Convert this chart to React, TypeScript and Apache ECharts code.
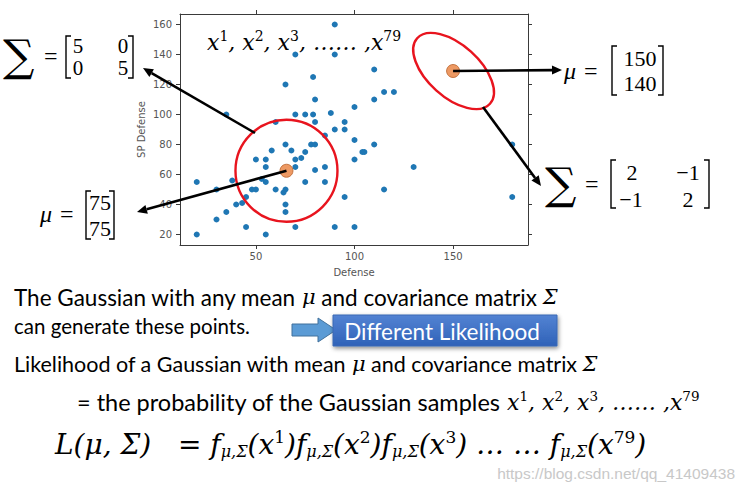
import React, { useEffect, useRef } from "react";
import * as echarts from "echarts";

const xTicks = [50, 100, 150];
const yTicks = [20, 40, 60, 80, 100, 120, 140, 160];
const defense = [90, 70, 90, 65, 79, 110, 80, 110, 115, 120, 100, 88, 35, 70, 75, 79, 80, 95, 60, 90, 95, 85, 65, 68, 58, 78, 80, 75, 73, 70, 50, 55, 55, 70, 85, 80, 100, 105, 110, 100, 130, 180, 180, 115, 95, 90, 100, 70, 75, 85, 60, 65, 64, 55, 48, 50, 38, 45, 43, 40, 35, 30, 30, 20, 20, 45, 55, 65, 65, 53, 104];
const spDefense = [160, 140, 140, 120, 125, 130, 110, 110, 115, 115, 105, 101, 100, 100, 100, 100, 95, 95, 95, 90, 90, 86, 80, 76, 76, 80, 80, 75, 71, 70, 70, 70, 65, 65, 65, 63, 70, 75, 80, 83, 65, 45, 80, 50, 45, 25, 25, 25, 55, 55, 50, 50, 48, 55, 50, 50, 56, 45, 41, 40, 35, 30, 50, 55, 20, 25, 20, 40, 35, 57, 75];
const meanX = [65.5, 150];
const meanY = [62.5, 129];

const SERIF = "Liberation Serif";
const MATH = "DejaVu Serif";
const SANS = "Lato";
const TICK = "#3a3a3a";

function txt(text: string, x: number, y: number, o: any = {}) {
  const align = o.align || "left";
  return {
    type: "text",
    z: 100,
    style: {
      text, x, y,
      fill: o.fill || "#000",
      align, textAlign: align,
      verticalAlign: "middle", textVerticalAlign: "middle",
      fontSize: o.size || 20,
      fontFamily: o.family || SERIF,
      fontStyle: o.italic ? "italic" : "normal",
      rich: o.rich,
    },
  };
}

function bracket(x: number, y1: number, y2: number, dir: number) {
  return {
    type: "polyline", z: 100,
    shape: { points: [[x + 5 * dir, y1], [x, y1], [x, y2], [x + 5 * dir, y2]] },
    style: { stroke: "#000", lineWidth: 1.4, fill: "none" },
  };
}

function arrow(x1: number, y1: number, x2: number, y2: number) {
  const a = Math.atan2(y2 - y1, x2 - x1);
  const L = 10, W = 4.5;
  const bx = x2 - L * Math.cos(a), by = y2 - L * Math.sin(a);
  const px = -Math.sin(a) * W, py = Math.cos(a) * W;
  return [
    { type: "line", z: 100, shape: { x1, y1, x2: bx, y2: by }, style: { stroke: "#000", lineWidth: 2.6 } },
    { type: "polygon", z: 100, shape: { points: [[x2, y2], [bx + px, by + py], [bx - px, by - py]] }, style: { fill: "#000" } },
  ];
}

const rs = (size: number, family: string, italic = false, extra: any = {}) => ({
  fontSize: size, fontFamily: family, fontStyle: italic ? "italic" : "normal", verticalAlign: "middle", fill: "#000", ...extra,
});

const mathRich = (size: number, supSize: number, lift: number) => ({
  m: rs(size, MATH, true),
  sup: rs(supSize, MATH, false, { padding: [0, 0, lift, 0] }),
});

const xSeq = "{m|x}{sup|1}{m|, x}{sup|2}{m|, x}{sup|3}{m|, …… ,x}{sup|79}";

export default function App() {
  const ref = useRef<HTMLDivElement>(null);
  useEffect(() => {
    const chart = echarts.init(ref.current!, null, { renderer: "svg" });
    const axisBase = (customTicks: number[]) => ({
      type: "value",
      axisLine: { show: true, onZero: false, lineStyle: { color: TICK, width: 1 } },
      axisTick: { show: true, inside: false, length: 4, lineStyle: { color: TICK }, customValues: customTicks },
      splitLine: { show: false },
    });
    chart.setOption({
      animation: false,
      grid: { left: 180, top: 14, width: 348, height: 231 },
      xAxis: [
        {
          ...axisBase(xTicks), min: 11.5, max: 188, position: "bottom",
          name: "Defense", nameLocation: "middle", nameGap: 22,
          nameTextStyle: { fontSize: 10, color: "#555", fontFamily: "DejaVu Sans" },
          axisLabel: { customValues: xTicks, fontSize: 10, color: "#555", margin: 6, fontFamily: "DejaVu Sans" },
        },
        { ...axisBase(xTicks), min: 11.5, max: 188, position: "top", axisLabel: { show: false } },
      ],
      yAxis: [
        {
          ...axisBase(yTicks), min: 13, max: 167, position: "left",
          name: "SP Defense", nameLocation: "middle", nameGap: 34,
          nameTextStyle: { fontSize: 10, color: "#555", fontFamily: "DejaVu Sans" },
          axisLabel: { customValues: yTicks, fontSize: 10, color: "#555", margin: 8, fontFamily: "DejaVu Sans" },
        },
        { ...axisBase(yTicks), min: 13, max: 167, position: "right", axisLabel: { show: false } },
      ],
      series: [
        {
          type: "scatter", symbolSize: 6,
          itemStyle: { color: "#1f77b4", opacity: 1 },
          data: defense.map((d, i) => [d, spDefense[i]]),
        },
        {
          type: "scatter", symbolSize: 13, z: 10,
          itemStyle: { color: "#e8803c", borderColor: "#b8612a", borderWidth: 1 },
          data: meanX.map((d, i) => [d, meanY[i]]),
        },
      ],
    });

    const m1 = chart.convertToPixel({ gridIndex: 0 }, [meanX[0], meanY[0]]) as number[];
    const m2 = chart.convertToPixel({ gridIndex: 0 }, [meanX[1], meanY[1]]) as number[];

    const graphic: any[] = [
      { type: "ellipse", z: 90, x: m1[0], y: m1[1], shape: { cx: 0, cy: 0, rx: 51, ry: 51 }, style: { fill: "none", stroke: "#e8141e", lineWidth: 2.4 } },
      { type: "ellipse", z: 90, x: m2[0] + 0.5, y: m2[1], rotation: (-42 * Math.PI) / 180, shape: { cx: 0, cy: 0, rx: 49, ry: 26 }, style: { fill: "none", stroke: "#e8141e", lineWidth: 2.4 } },
      ...arrow(255, 133, 143, 68),
      ...arrow(m1[0], m1[1], 137, 212),
      ...arrow(m2[0], m2[1], 562, 70),
      ...arrow(483, 107, 541, 186),

      // x^1 ... x^79 label
      txt(xSeq, 207, 42, { rich: mathRich(22, 14, 13) }),

      // left Sigma
      txt("∑", 3, 55, { size: 44, family: MATH }),
      txt("=", 44, 56, { size: 24 }),
      bracket(66, 36, 78, 1),
      txt("5", 78, 46, { size: 21, align: "center" }),
      txt("0", 123, 46, { size: 21, align: "center" }),
      txt("0", 78, 68, { size: 21, align: "center" }),
      txt("5", 123, 68, { size: 21, align: "center" }),
      bracket(133, 36, 78, -1),

      // left mu
      txt("μ", 40, 214, { size: 24, italic: true }),
      txt("=", 60, 214, { size: 24 }),
      bracket(86, 191, 239, 1),
      txt("75", 100, 202, { size: 22, align: "center" }),
      txt("75", 100, 228, { size: 22, align: "center" }),
      bracket(114, 191, 239, -1),

      // right mu
      txt("μ", 564, 71, { size: 24, italic: true }),
      txt("=", 584, 71, { size: 24 }),
      bracket(612, 46, 95, 1),
      txt("150", 640, 58, { size: 22, align: "center" }),
      txt("140", 640, 83, { size: 22, align: "center" }),
      bracket(663, 46, 95, -1),

      // right Sigma
      txt("∑", 545, 183, { size: 44, family: MATH }),
      txt("=", 585, 184, { size: 24 }),
      bracket(611, 160, 208, 1),
      txt("2", 632, 172, { size: 22, align: "center" }),
      txt("−1", 688, 172, { size: 22, align: "center" }),
      txt("−1", 631, 199, { size: 22, align: "center" }),
      txt("2", 688, 199, { size: 22, align: "center" }),
      bracket(709, 160, 208, -1),

      // bottom text
      txt("{s|The Gaussian with any mean }{m|μ}{s| and covariance matrix }{m|Σ}", 14, 297, {
        rich: { s: rs(22.5, SANS), m: rs(21, MATH, true) },
      }),
      txt("can generate these points.", 14, 326, { size: 20.5, family: SANS }),
      {
        type: "polygon", z: 100,
        shape: { points: [[292, 324], [318, 324], [318, 318], [336, 330], [318, 342], [318, 336], [292, 336]] },
        style: { fill: "#5b9bd5", stroke: "#41719c", lineWidth: 1 },
      },
      {
        type: "rect", z: 100,
        shape: { x: 333, y: 315, width: 224, height: 31 },
        style: {
          fill: new echarts.graphic.LinearGradient(0, 0, 0, 1, [
            { offset: 0, color: "#5383d3" },
            { offset: 1, color: "#2f62b8" },
          ]),
          stroke: "#3b68b4", lineWidth: 1,
          shadowBlur: 4, shadowColor: "rgba(0,0,0,0.45)", shadowOffsetY: 2, shadowOffsetX: 1,
        },
      },
      txt("Different Likelihood", 442, 331, { size: 22.5, family: SANS, fill: "#fff", align: "center" }),
      txt("{s|Likelihood of a Gaussian with mean }{m|μ}{s| and covariance matrix }{m|Σ}", 14, 364, {
        rich: { s: rs(21.5, SANS), m: rs(21, MATH, true) },
      }),
      txt("{s|= the probability of the Gaussian samples }" + xSeq, 77, 402, {
        rich: { s: rs(23.5, SANS), ...mathRich(22, 13.5, 12) },
      }),
      txt(
        "{m|L(μ, Σ)   = f}{sub|μ,Σ}{m|(x}{sup|1}{m|)f}{sub|μ,Σ}{m|(x}{sup|2}{m|)f}{sub|μ,Σ}{m|(x}{sup|3}{m|) … … f}{sub|μ,Σ}{m|(x}{sup|79}{m|)}",
        55, 444,
        {
          rich: {
            m: rs(28, MATH, true),
            sub: rs(16, MATH, true, { padding: [15, 0, 0, 0] }),
            sup: rs(17, MATH, false, { padding: [0, 0, 15, 0] }),
          },
        }
      ),
      txt("https://blog.csdn.net/qq_41409438", 735, 473, { size: 15.5, family: "Liberation Sans", fill: "#c8c8c8", align: "right" }),
    ];
    chart.setOption({ graphic });
    return () => chart.dispose();
  }, []);
  return <div ref={ref} style={{ position: "fixed", left: 0, top: 0, width: 742, height: 485, background: "#fff" }} />;
}
